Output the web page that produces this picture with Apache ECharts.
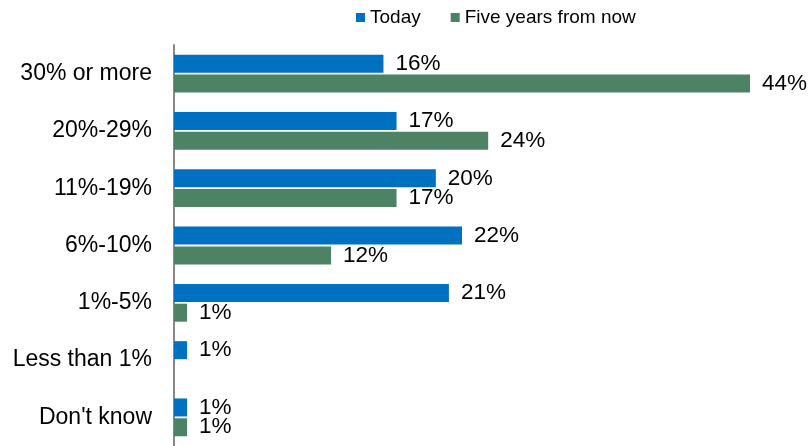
<!DOCTYPE html>
<html>
<head>
<meta charset="utf-8">
<script src="https://cdn.jsdelivr.net/npm/echarts@6/dist/echarts.min.js"></script>
<style>
  html, body { margin: 0; padding: 0; background: #fff; }
  #chart { width: 811px; height: 446px; }
</style>
</head>
<body>
<div id="chart"></div>
<script>
// Share of revenue ranges, top to bottom
const categories = ['30% or more', '20%-29%', '11%-19%', '6%-10%', '1%-5%', 'Less than 1%', "Don't know"];
const seriesNames = ['Today', 'Five years from now'];
const today = [16, 17, 20, 22, 21, 1, 1];
const fiveYears = [44, 24, 17, 12, 1, 0, 1];

const font = 'Liberation Sans, Arial, sans-serif';
const chart = echarts.init(document.getElementById('chart'));

function labelOpts() {
  return {
    show: true,
    position: 'right',
    distance: 12,
    fontFamily: font,
    fontSize: 22.5,
    color: '#000',
    formatter: p => (p.value ? p.value + '%' : '')
  };
}

chart.setOption({
  animation: false,
  legend: {
    top: 3,
    left: 351,
    itemWidth: 9,
    itemHeight: 9,
    itemGap: 30,
    icon: 'rect',
    textStyle: { fontFamily: font, fontSize: 19, color: '#000' },
    data: seriesNames
  },
  grid: { left: 174, right: 61, top: 45, bottom: -3 },
  xAxis: {
    type: 'value',
    min: 0,
    max: 44,
    show: false
  },
  yAxis: {
    type: 'category',
    inverse: true,
    data: categories,
    axisLine: { show: true, lineStyle: { color: '#888', width: 2 } },
    axisTick: { show: false },
    axisLabel: { fontFamily: font, fontSize: 23, color: '#000', margin: 22, padding: [4, 0, 0, 0] }
  },
  series: [
    {
      name: seriesNames[0],
      type: 'bar',
      data: today,
      barWidth: 18,
      barGap: '10%',
      itemStyle: { color: '#0070C0' },
      label: labelOpts()
    },
    {
      name: seriesNames[1],
      type: 'bar',
      data: fiveYears,
      barWidth: 18,
      barGap: '10%',
      itemStyle: { color: '#4E8264' },
      label: labelOpts()
    }
  ]
});
</script>
</body>
</html>
